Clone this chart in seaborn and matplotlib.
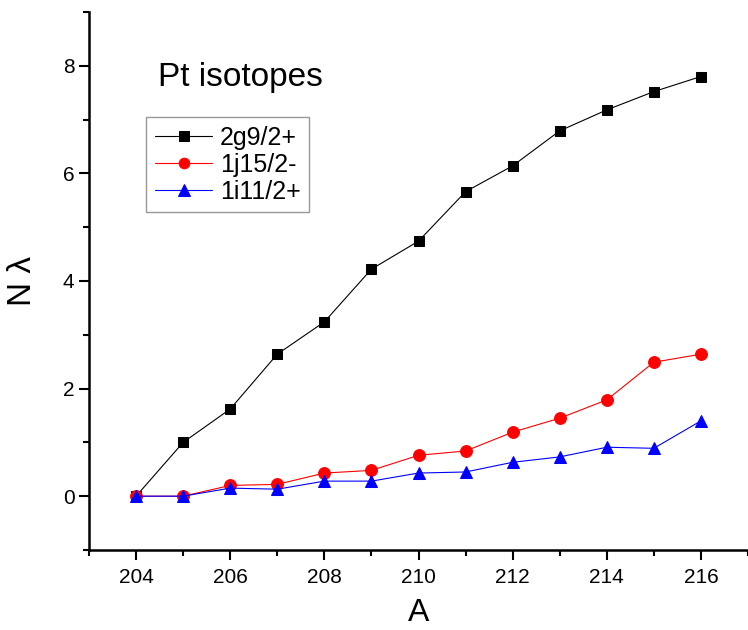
import numpy as np
import pandas as pd
import matplotlib
matplotlib.use("Agg")
import matplotlib.pyplot as plt
from matplotlib.ticker import MultipleLocator
import seaborn as sns

mass_number = [204, 205, 206, 207, 208, 209, 210, 211, 212, 213, 214, 215, 216]
n_2g92 = [0.0, 1.0, 1.62, 2.64, 3.24, 4.22, 4.74, 5.66, 6.14, 6.79, 7.18, 7.52, 7.80]
n_1j152 = [0.0, 0.0, 0.20, 0.22, 0.43, 0.48, 0.76, 0.84, 1.19, 1.45, 1.79, 2.49, 2.64]
n_1i112 = [0.0, 0.0, 0.15, 0.13, 0.28, 0.28, 0.43, 0.45, 0.63, 0.73, 0.91, 0.89, 1.40]

series_labels = ["2g9/2+", "1j15/2-", "1i11/2+"]
series_colors = ["black", "red", "blue"]
series_markers = ["s", "o", "^"]
series_sizes = [7.5, 8.5, 9]

sns.set_style("ticks", {"text.color": "black", "axes.labelcolor": "black",
                        "xtick.color": "black", "ytick.color": "black",
                        "axes.edgecolor": "black"})
plt.rcParams["font.family"] = ["Liberation Sans", "DejaVu Sans"]

df = pd.DataFrame({"A": mass_number, series_labels[0]: n_2g92,
                   series_labels[1]: n_1j152, series_labels[2]: n_1i112})
long_df = df.melt(id_vars="A", var_name="orbital", value_name="N")

fig = plt.figure(figsize=(7.48, 6.3), dpi=100)
ax = fig.add_axes([0.119, 0.127, 0.881, 0.854])

for label, color, marker, ms in zip(series_labels, series_colors, series_markers, series_sizes):
    sub = long_df[long_df["orbital"] == label]
    sns.lineplot(data=sub, x="A", y="N", ax=ax, color=color, marker=marker,
                 markersize=ms, markeredgecolor=color, linewidth=0.8,
                 label=label, zorder=3)

ax.set_xlim(203, 217)
ax.set_ylim(-1, 9)
ax.xaxis.set_major_locator(MultipleLocator(2))
ax.xaxis.set_minor_locator(MultipleLocator(1))
ax.yaxis.set_major_locator(MultipleLocator(2))
ax.yaxis.set_minor_locator(MultipleLocator(1))
ax.tick_params(which="major", direction="out", length=7, width=1.5, labelsize=15)
ax.tick_params(axis="x", which="major", pad=6)
ax.tick_params(which="minor", direction="out", length=4, width=1.5)
for side in ["left", "bottom"]:
    ax.spines[side].set_linewidth(1.8)
sns.despine(ax=ax)

ax.set_xlabel("A", fontsize=23, labelpad=8)
ax.set_ylabel("N \u03bb", fontsize=24, labelpad=18)

ax.text(204.46, 7.63, "Pt isotopes", fontsize=24, va="baseline", ha="left")

leg = ax.legend(loc="upper left", bbox_to_anchor=(0.0865, 0.805), fontsize=18,
                frameon=True, fancybox=False, edgecolor="#7f7f7f",
                handlelength=2.3, handletextpad=0.3, borderpad=0.35,
                labelspacing=0.12, borderaxespad=0, markerscale=0.9)
leg.get_frame().set_linewidth(1.0)

fig.savefig("out.png", dpi=100)
